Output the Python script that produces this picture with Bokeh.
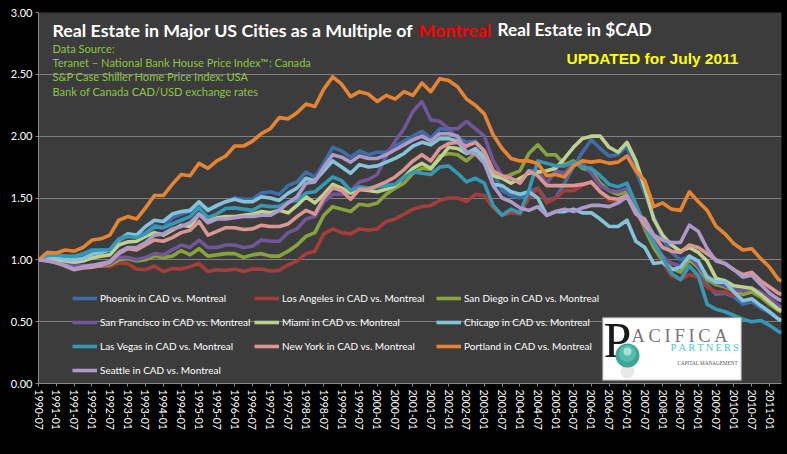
from bokeh.plotting import figure
from bokeh.models import Range1d, FixedTicker, Label, BoxAnnotation, Legend, LegendItem
from bokeh.embed import file_html
from bokeh.resources import INLINE
import math

MONTHS = [0,3,6,9,12,15,18,21,24,27,30,33,36,39,42,45,48,51,54,57,60,63,66,69,72,75,78,81,84,87,
          90,93,96,99,102,105,108,111,114,117,120,123,126,129,132,135,138,141,144,147,150,153,156,159,
          162,165,168,171,174,177,180,183,186,189,192,195,198,201,204,207,210,213,216,219,222,225,228,
          231,234,237,240,243,246,249,250]

X_LABELS = ["1990-07","1991-01","1991-07","1992-01","1992-07","1993-01","1993-07","1994-01","1994-07",
            "1995-01","1995-07","1996-01","1996-07","1997-01","1997-07","1998-01","1998-07","1999-01",
            "1999-07","2000-01","2000-07","2001-01","2001-07","2002-01","2002-07","2003-01","2003-07",
            "2004-01","2004-07","2005-01","2005-07","2006-01","2006-07","2007-01","2007-07","2008-01",
            "2008-07","2009-01","2009-07","2010-01","2010-07","2011-01"]
Y_TICKS = [0.0, 0.5, 1.0, 1.5, 2.0, 2.5, 3.0]

PHOENIX = [1.00,1.03,1.03,1.02,1.02,1.03,1.07,1.08,1.08,1.15,
           1.19,1.19,1.22,1.28,1.26,1.34,1.37,1.39,1.45,1.41,
           1.43,1.47,1.50,1.49,1.49,1.54,1.55,1.53,1.60,1.63,
           1.71,1.67,1.78,1.91,1.88,1.83,1.88,1.85,1.87,1.87,
           1.92,1.96,2.00,2.04,1.98,2.06,2.05,1.99,1.95,1.96,
           1.88,1.70,1.56,1.52,1.50,1.55,1.58,1.48,1.50,1.62,
           1.75,1.87,1.97,1.90,1.84,1.85,1.92,1.72,1.54,1.35,
           1.17,1.06,1.00,1.03,0.93,0.80,0.72,0.73,0.70,0.64,
           0.66,0.61,0.57,0.52,0.52]
LOS_ANGELES = [1.00,0.99,0.98,0.96,0.94,0.95,0.955,0.95,0.945,0.975,
               0.97,0.925,0.92,0.95,0.905,0.93,0.925,0.945,0.97,0.905,
               0.92,0.915,0.925,0.905,0.925,0.925,0.91,0.915,0.96,0.99,
               1.05,1.07,1.21,1.25,1.22,1.21,1.25,1.24,1.25,1.31,
               1.33,1.37,1.41,1.43,1.44,1.48,1.50,1.50,1.47,1.53,
               1.52,1.42,1.36,1.38,1.37,1.50,1.58,1.46,1.50,1.56,
               1.56,1.60,1.63,1.55,1.48,1.48,1.52,1.38,1.28,1.10,
               0.98,0.87,0.84,0.88,0.86,0.78,0.74,0.74,0.71,0.72,
               0.75,0.71,0.67,0.62,0.61]
SAN_DIEGO = [1.00,1.00,0.99,0.98,0.96,0.95,0.95,0.95,0.96,1.00,
             1.01,0.99,1.00,1.03,1.02,1.03,1.075,1.04,1.09,1.03,
             1.04,1.05,1.05,1.02,1.04,1.05,1.03,1.03,1.07,1.12,
             1.19,1.22,1.36,1.43,1.41,1.39,1.45,1.44,1.46,1.53,
             1.58,1.62,1.70,1.74,1.73,1.84,1.86,1.85,1.80,1.86,
             1.87,1.72,1.66,1.69,1.72,1.86,1.93,1.85,1.85,1.77,
             1.80,1.74,1.72,1.62,1.56,1.53,1.55,1.42,1.25,1.10,
             1.00,0.93,0.90,1.00,0.94,0.84,0.80,0.78,0.75,0.72,
             0.74,0.70,0.64,0.59,0.58]
SAN_FRANCISCO = [1.00,1.00,0.99,0.98,0.96,0.95,0.955,0.955,0.97,1.02,
                 1.02,1.00,1.02,1.05,1.04,1.08,1.12,1.10,1.16,1.10,
                 1.10,1.12,1.12,1.10,1.11,1.16,1.15,1.15,1.22,1.25,
                 1.33,1.35,1.47,1.53,1.53,1.56,1.63,1.65,1.69,1.84,
                 1.96,2.06,2.20,2.28,2.13,2.12,2.06,2.06,2.12,2.06,
                 2.00,1.80,1.68,1.66,1.62,1.72,1.72,1.62,1.72,1.70,
                 1.78,1.78,1.70,1.60,1.56,1.55,1.58,1.42,1.27,1.15,
                 1.03,0.97,0.95,1.03,0.95,0.87,0.82,0.79,0.76,0.75,
                 0.77,0.74,0.69,0.63,0.62]
MIAMI = [1.00,1.01,1.00,0.99,0.98,0.99,1.015,1.03,1.04,1.12,
         1.145,1.15,1.19,1.22,1.20,1.24,1.28,1.27,1.37,1.32,
         1.34,1.35,1.35,1.36,1.37,1.39,1.38,1.40,1.38,1.44,
         1.51,1.46,1.53,1.61,1.58,1.54,1.57,1.56,1.55,1.57,
         1.60,1.67,1.74,1.78,1.74,1.82,1.91,1.90,1.86,1.89,
         1.80,1.68,1.66,1.62,1.66,1.70,1.71,1.72,1.74,1.82,
         1.91,1.98,2.00,2.00,1.91,1.87,1.95,1.80,1.58,1.33,
         1.20,1.12,1.07,1.10,1.06,0.99,0.85,0.83,0.79,0.78,
         0.77,0.72,0.66,0.60,0.59]
CHICAGO = [1.00,1.02,1.02,1.00,1.00,1.01,1.045,1.06,1.08,1.16,
           1.21,1.20,1.27,1.32,1.31,1.37,1.39,1.40,1.47,1.40,
           1.44,1.47,1.49,1.47,1.47,1.51,1.50,1.48,1.54,1.58,
           1.66,1.64,1.72,1.80,1.75,1.70,1.77,1.75,1.76,1.79,
           1.82,1.86,1.92,1.95,1.93,1.98,1.98,1.96,1.86,1.90,
           1.83,1.61,1.60,1.55,1.53,1.55,1.50,1.36,1.39,1.39,
           1.41,1.38,1.38,1.33,1.27,1.27,1.32,1.15,1.10,0.97,
           0.98,0.92,0.94,1.03,0.99,0.86,0.82,0.82,0.74,0.67,
           0.685,0.63,0.58,0.52,0.51]
LAS_VEGAS = [1.00,1.035,1.04,1.03,1.03,1.05,1.08,1.08,1.08,1.17,
             1.19,1.18,1.21,1.265,1.26,1.29,1.32,1.35,1.42,1.34,
             1.37,1.415,1.42,1.41,1.40,1.44,1.43,1.43,1.47,1.48,
             1.54,1.55,1.61,1.67,1.64,1.56,1.59,1.58,1.59,1.60,
             1.61,1.67,1.71,1.70,1.69,1.75,1.76,1.70,1.63,1.66,
             1.62,1.44,1.36,1.41,1.38,1.56,1.80,1.78,1.76,1.76,
             1.79,1.75,1.74,1.68,1.61,1.59,1.62,1.45,1.28,1.14,
             1.02,0.89,0.84,0.95,0.87,0.64,0.60,0.58,0.55,0.52,
             0.50,0.51,0.47,0.42,0.41]
NEW_YORK = [1.00,0.99,0.98,0.95,0.92,0.935,0.94,0.955,0.98,1.05,
            1.09,1.08,1.12,1.16,1.15,1.18,1.22,1.24,1.31,1.20,
            1.23,1.26,1.26,1.245,1.25,1.28,1.27,1.27,1.29,1.35,
            1.40,1.37,1.50,1.58,1.56,1.49,1.57,1.57,1.60,1.63,
            1.67,1.73,1.80,1.85,1.80,1.90,1.94,1.95,1.92,1.95,
            1.88,1.72,1.68,1.66,1.62,1.72,1.68,1.60,1.60,1.60,
            1.60,1.61,1.63,1.55,1.50,1.49,1.52,1.39,1.28,1.20,
            1.10,1.07,1.06,1.12,1.10,1.05,1.00,0.97,0.92,0.88,
            0.90,0.83,0.78,0.73,0.72]
PORTLAND = [1.00,1.06,1.055,1.08,1.07,1.10,1.16,1.17,1.20,1.32,
            1.35,1.33,1.42,1.52,1.52,1.61,1.69,1.68,1.78,1.74,
            1.80,1.84,1.92,1.92,1.96,2.02,2.06,2.15,2.14,2.19,
            2.26,2.24,2.38,2.48,2.42,2.32,2.36,2.34,2.28,2.33,
            2.30,2.36,2.33,2.43,2.36,2.465,2.45,2.40,2.30,2.25,
            2.18,2.01,1.90,1.82,1.80,1.80,1.78,1.68,1.69,1.67,
            1.76,1.80,1.79,1.80,1.78,1.79,1.84,1.72,1.64,1.43,
            1.46,1.41,1.40,1.55,1.47,1.40,1.27,1.21,1.13,1.08,
            1.09,1.01,0.94,0.84,0.83]
SEATTLE = [1.00,0.995,0.975,0.955,0.925,0.945,0.955,0.97,0.985,1.06,
           1.10,1.10,1.14,1.20,1.21,1.25,1.27,1.30,1.37,1.30,
           1.33,1.33,1.34,1.35,1.35,1.36,1.36,1.40,1.46,1.51,
           1.62,1.63,1.75,1.85,1.83,1.79,1.84,1.82,1.82,1.85,
           1.89,1.93,1.97,2.00,1.96,2.02,2.02,2.00,1.87,1.86,
           1.78,1.60,1.50,1.47,1.42,1.40,1.43,1.36,1.39,1.41,
           1.39,1.42,1.44,1.44,1.43,1.46,1.51,1.37,1.33,1.20,
           1.16,1.14,1.14,1.28,1.23,1.09,0.99,0.97,0.92,0.86,
           0.875,0.80,0.73,0.68,0.67]

SERIES = [("Phoenix in CAD vs. Montreal", PHOENIX, "#3F6DA8"),
          ("Los Angeles in CAD vs. Montreal", LOS_ANGELES, "#A63D3B"),
          ("San Diego in CAD vs. Montreal", SAN_DIEGO, "#86A33F"),
          ("San Francisco in CAD vs. Montreal", SAN_FRANCISCO, "#71569A"),
          ("Miami in CAD vs. Montreal", MIAMI, "#BDD28F"),
          ("Chicago in CAD vs. Montreal", CHICAGO, "#85C3DA"),
          ("Las Vegas in CAD vs. Montreal", LAS_VEGAS, "#3798B5"),
          ("New York in CAD vs. Montreal", NEW_YORK, "#D99694"),
          ("Portland in CAD vs. Montreal", PORTLAND, "#E58533"),
          ("Seattle in CAD vs. Montreal", SEATTLE, "#AD9AC9")]

W, H = 787, 454
p = figure(width=W, height=H, output_backend="svg", toolbar_location=None,
           x_range=Range1d(0, 250), y_range=Range1d(0, 3),
           min_border_left=38, min_border_right=6, min_border_top=12, min_border_bottom=71,
           background_fill_color="#3C3C3C", border_fill_color="#000000", outline_line_color=None)

p.xgrid.visible = False
p.ygrid.grid_line_color = "#808080"
p.ygrid.grid_line_width = 1
p.xaxis.ticker = FixedTicker(ticks=[6 * i for i in range(len(X_LABELS))])
p.xaxis.major_label_overrides = {6 * i: s for i, s in enumerate(X_LABELS)}
p.xaxis.major_label_orientation = -math.pi / 2
p.yaxis.ticker = FixedTicker(ticks=Y_TICKS)
p.yaxis.major_label_overrides = {t: f"{t:.2f}" for t in Y_TICKS}
for ax in (p.xaxis[0], p.yaxis[0]):
    ax.axis_line_color = "#8C8C8C"
    ax.major_tick_line_color = "#8C8C8C"
    ax.minor_tick_line_color = None
    ax.major_tick_in = 0
    ax.major_tick_out = 3
    ax.major_label_text_color = "#FFFFFF"
    ax.major_label_text_font = "Lato"
    ax.major_label_standoff = 3
p.xaxis.major_label_text_font_size = "10.5px"
p.yaxis.major_label_text_font_size = "11px"

items = {}
for name, vals, col in SERIES:
    r = p.line(MONTHS, vals, line_color=col, line_width=3.6, line_join="round")
    items[name] = r

ordered = [s[0] for s in SERIES]
legend = Legend(items=[LegendItem(label=n, renderers=[items[n]]) for n in ordered],
                ncols=3, orientation="horizontal", location=(34, 2),
                background_fill_alpha=0, border_line_alpha=0, padding=0, margin=0,
                glyph_width=25, glyph_height=8, label_standoff=3, spacing=2,
                label_height=22, label_width=152, label_text_color="#FFFFFF", label_text_font="Lato",
                label_text_font_size="10px")
p.add_layout(legend, "center")

def dx(px):
    return (px - 38) * 250 / 743
def dy(py):
    return (383 - py) * 3 / 371

def put(px, py, text, color, size, font="Lato", style="normal", align="left"):
    p.add_layout(Label(x=dx(px), y=dy(py), text=text, text_color=color, text_font=font,
                       text_font_size=size, text_font_style=style, text_align=align,
                       text_baseline="middle"))

put(52, 29, "Real Estate in Major US Cities as a Multiple of", "#FFFFFF", "17.8px", style="bold")
put(418, 29, "Montreal", "#FF0000", "17.8px", style="bold")
put(497, 29, "Real Estate in $CAD", "#FFFFFF", "17.3px", style="bold")

GREEN = "#8CC63F"
put(52, 48, "Data Source:", GREEN, "11.1px")
put(52, 62, "Teranet \u2013 National Bank House Price Index\u2122: Canada", GREEN, "11.1px")
put(52, 76, "S&P Case Shiller Home Price Index: USA", GREEN, "11.1px")
put(52, 91, "Bank of Canada CAD/USD exchange rates", GREEN, "11.1px")
put(566, 58, "UPDATED for July 2011", "#FFFF00", "15.5px", font="Liberation Sans", style="bold")

# logo
p.add_layout(BoxAnnotation(left=dx(602), right=dx(741), top=dy(317), bottom=dy(380),
                           fill_color="#FFFFFF", fill_alpha=1, line_color="#6E6E6E", line_width=2))
put(603, 339, "P", "#1A1A1A", "50px", font="Liberation Serif")
put(631, 335, "A\u2009C\u2009I\u2009F\u2009I\u2009C\u2009A", "#777777", "18.5px", font="Liberation Serif")
put(670, 347, "P\u2009A\u2009R\u2009T\u2009N\u2009E\u2009R\u2009S", "#4CC9C9", "10.5px", font="Liberation Serif")
put(677, 362, "CAPITAL MANAGEMENT", "#555555", "5.2px", font="Liberation Serif")
sphere = [(627, 371, 14, "#E8E8E8"), (627, 355, 24, "#3FA595"),
          (627, 353, 17, "#55BDB0"), (627, 351, 8, "#A8E0D8")]
for sx, sy, sz, c in sphere:
    p.scatter([dx(sx)], [dy(sy)], size=sz, color=c, line_color=None, level="overlay")

html = file_html(p, INLINE)
html = html.replace("</head>", "<style>html,body{background:#000000;margin:0}</style></head>")
open("out.html", "w", encoding="utf-8").write(html)
